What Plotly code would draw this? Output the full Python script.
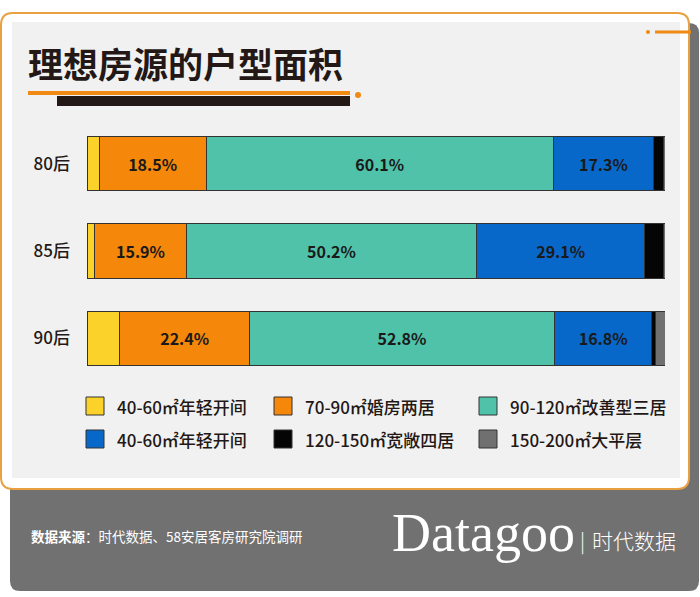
import plotly.graph_objects as go

# data
generations = ["80后", "85后", "90后"]
segment_names = [
    "40-60㎡年轻开间",
    "70-90㎡婚房两居",
    "90-120㎡改善型三居",
    "40-60㎡年轻开间",
    "120-150㎡宽敞四居",
    "150-200㎡大平层",
]
yellow_vals = [2.1, 1.3, 5.7]
orange_vals = [18.5, 15.9, 22.4]
teal_vals = [60.1, 50.2, 52.8]
blue_vals = [17.3, 29.1, 16.8]
black_vals = [1.8, 3.3, 0.6]
gray_vals = [0.2, 0.2, 1.7]
series = [yellow_vals, orange_vals, teal_vals, blue_vals, black_vals, gray_vals]
colors = ["#FAD22A", "#F5870A", "#4FC2A9", "#0868C9", "#050505", "#707070"]
show_label = [False, True, True, True, False, False]

title_text = "理想房源的户型面积"
source_text = "<b>数据来源</b>：时代数据、58安居客房研究院调研"

FONT = "Noto Sans CJK SC"
W, H = 700, 597
L, R, T, B = 87, 35, 120, 215
PW, PH = W - L - R, H - T - B


# pixel -> paper helpers
def px(x):
    return (x - L) / PW


def py(y):
    return (H - B - y) / PH


def rounded_rect(x0, y0, x1, y1, r):
    pts = [
        ("M", x0 + r, y0), ("L", x1 - r, y0), ("Q", x1, y0, x1, y0 + r),
        ("L", x1, y1 - r), ("Q", x1, y1, x1 - r, y1), ("L", x0 + r, y1),
        ("Q", x0, y1, x0, y1 - r), ("L", x0, y0 + r), ("Q", x0, y0, x0 + r, y0),
    ]
    out = ""
    for p in pts:
        if p[0] == "Q":
            out += "Q %.5f,%.5f %.5f,%.5f " % (px(p[1]), py(p[2]), px(p[3]), py(p[4]))
        else:
            out += "%s %.5f,%.5f " % (p[0], px(p[1]), py(p[2]))
    return out + "Z"


fig = go.Figure()

for name, vals, col, lab in zip(segment_names, series, colors, show_label):
    fig.add_trace(go.Bar(
        y=generations,
        x=vals,
        orientation="h",
        name=name,
        marker=dict(color=col, line=dict(color="#333333", width=1)),
        text=[f"{v}%" for v in vals] if lab else None,
        textposition="inside" if lab else "none",
        insidetextanchor="middle",
        textangle=0,
        textfont=dict(family=FONT, size=16, color="#1a1a1a", weight="bold"),
        width=0.62,
        showlegend=False,
    ))

shapes = []
# gray shadow / footer panel
shapes.append(dict(type="path", path=rounded_rect(10, 23, 699, 591, 10),
                   xref="paper", yref="paper", fillcolor="#717171",
                   line=dict(width=0), layer="below"))
# white card with orange border
shapes.append(dict(type="path", path=rounded_rect(1, 13, 689, 489, 12),
                   xref="paper", yref="paper", fillcolor="#FFFFFF",
                   line=dict(color="#E9A040", width=2), layer="below"))
# light gray inner panel
shapes.append(dict(type="rect", x0=px(12), x1=px(680), y0=py(22), y1=py(478),
                   xref="paper", yref="paper", fillcolor="#F1F1F1",
                   line=dict(width=0), layer="below"))
# title underline decoration
shapes.append(dict(type="rect", x0=px(57), x1=px(350), y0=py(96), y1=py(106),
                   xref="paper", yref="paper", fillcolor="#231815",
                   line=dict(width=0), layer="below"))
shapes.append(dict(type="rect", x0=px(28), x1=px(350), y0=py(91), y1=py(95),
                   xref="paper", yref="paper", fillcolor="#F08A12",
                   line=dict(width=0), layer="below"))
shapes.append(dict(type="circle", x0=px(355), x1=px(361), y0=py(92), y1=py(98),
                   xref="paper", yref="paper", fillcolor="#F08A12",
                   line=dict(width=0), layer="below"))
# top-right ornament
shapes.append(dict(type="rect", x0=px(655), x1=px(691), y0=py(30.5), y1=py(33.5),
                   xref="paper", yref="paper", fillcolor="#F08A12",
                   line=dict(width=0), layer="above"))
shapes.append(dict(type="circle", x0=px(646), x1=px(650), y0=py(30), y1=py(34),
                   xref="paper", yref="paper", fillcolor="#F08A12",
                   line=dict(width=0), layer="above"))

annotations = [
    dict(text=f"<b>{title_text}</b>", x=px(26), y=py(63), xref="paper", yref="paper",
         xanchor="left", yanchor="middle", showarrow=False,
         font=dict(family=FONT, size=35, color="#231815", weight=900)),
    dict(text=source_text, x=px(29), y=py(536), xref="paper", yref="paper",
         xanchor="left", yanchor="middle", showarrow=False,
         font=dict(family=FONT, size=13.5, color="#FFFFFF")),
    dict(text="Datagoo", x=px(390), y=py(533), xref="paper", yref="paper",
         xanchor="left", yanchor="middle", showarrow=False,
         font=dict(family="Liberation Serif", size=54, color="#FFFFFF")),
    dict(text="|", x=px(582), y=py(540), xref="paper", yref="paper",
         xanchor="center", yanchor="middle", showarrow=False,
         font=dict(family=FONT, size=20, color="#FFFFFF", weight=300)),
    dict(text="时代数据", x=px(590), y=py(540), xref="paper", yref="paper",
         xanchor="left", yanchor="middle", showarrow=False,
         font=dict(family=FONT, size=21, color="#FFFFFF", weight=300)),
]

# hand-made legend, 2 rows x 3 columns
col_x = [86, 274, 479]
row_y = [406, 439]
for i, (name, col) in enumerate(zip(segment_names, colors)):
    cx = col_x[i % 3]
    cy = row_y[i // 3]
    shapes.append(dict(type="rect", x0=px(cx), x1=px(cx + 18),
                       y0=py(cy - 9), y1=py(cy + 9), xref="paper", yref="paper",
                       fillcolor=col, line=dict(color="#333333", width=1)))
    annotations.append(dict(text=name, x=px(cx + 29), y=py(cy), xref="paper",
                            yref="paper", xanchor="left", yanchor="middle",
                            showarrow=False,
                            font=dict(family=FONT, size=17, color="#231815",
                                      weight=500)))

fig.update_layout(
    width=W, height=H,
    margin=dict(l=L, r=R, t=T, b=B),
    barmode="stack",
    bargap=0.38,
    paper_bgcolor="#FFFFFF",
    plot_bgcolor="rgba(0,0,0,0)",
    shapes=shapes,
    annotations=annotations,
    xaxis=dict(range=[0, 100], visible=False, fixedrange=True),
    yaxis=dict(autorange="reversed", showgrid=False, zeroline=False,
               showline=False, ticks="", ticklabelstandoff=16,
               tickfont=dict(family=FONT, size=17, color="#231815", weight=500)),
    uniformtext=dict(minsize=10, mode="show"),
)

# drop the browser's default 8px page margin so the figure sits at 0,0
fig.write_html("out.html", config={"displayModeBar": False},
               post_script="document.body.style.margin='0';")
